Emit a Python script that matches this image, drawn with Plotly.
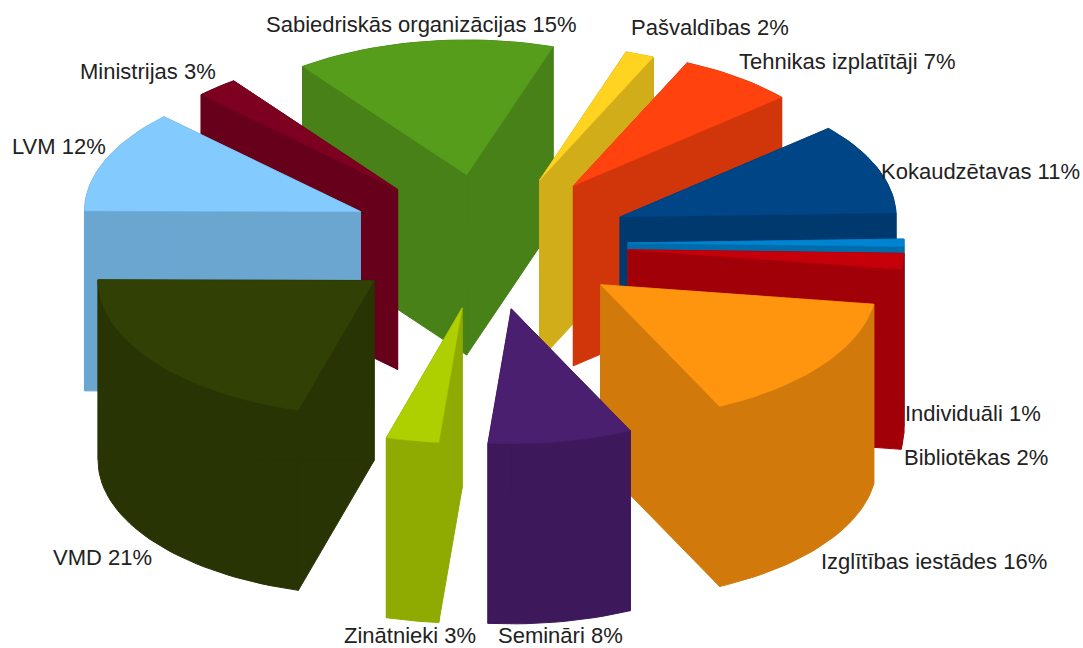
import math
import plotly.graph_objects as go

# Data, clockwise from the first slice
categories = ["Kokaudzētavas", "Individuāli", "Bibliotēkas", "Izglītības iestādes", "Semināri",
              "Zinātnieki", "VMD", "LVM", "Ministrijas", "Sabiedriskās organizācijas",
              "Pašvaldības", "Tehnikas izplatītāji"]
shares = [11.0, 0.9, 1.9, 15.7, 8.5, 3.1, 20.8, 12.4, 2.5, 15.3, 1.7, 6.9]
percent_labels = ["11%", "1%", "2%", "16%", "8%", "3%", "21%", "12%", "3%", "15%", "2%", "7%"]
colors = ["#004586", "#0084d1", "#c5000b", "#ff950e", "#4b1f6f", "#aecf00",
          "#314004", "#83caff", "#7e0021", "#579d1c", "#ffd320", "#ff420e"]

# How far each slice is pulled out of the pie, per page direction
pull_x = [.514, .507, .509, .507, .47, .52, .516, .5, .5, .49, .515, .518]
pull_y = [.53, .5, .58, .52, .496, .489, .463, .61, .525, .51, .5, .528]

# Projection of the exploded 3D pie onto the page (pixels)
CX, CY = 488, 243
RX, RY = 276, 135
DEPTH = 180
START = 319.0
SHADE = 0.82

label_x = [879, 903, 902, 819, 496, 342, 51, 10, 78, 264, 629, 737]
label_y = [171, 413, 457, 561, 635, 635, 557, 146, 71, 24, 27, 61]


def darker(hex_color, f=SHADE):
    r, g, b = (int(hex_color[i:i + 2], 16) for i in (1, 3, 5))
    return f"rgb({r * f:.0f},{g * f:.0f},{b * f:.0f})"


total = sum(shares)
slices = []
angle = START
for name, share, col, px, py, pct in zip(categories, shares, colors, pull_x, pull_y, percent_labels):
    sweep = share / total * 360
    slices.append({"name": name, "pct": pct, "color": col, "px": px, "py": py,
                   "a0": angle, "a1": angle + sweep, "mid": angle + sweep / 2})
    angle += sweep


def poly(fig, xs, ys, color, name, width=1.0):
    fig.add_trace(go.Scatter(x=xs + xs[:1], y=ys + ys[:1], mode="lines", fill="toself",
                             fillcolor=color, line=dict(width=width, color=color),
                             hoverinfo="text", text=name, showlegend=False))


fig = go.Figure()
# Painter's order: far slices first
for s in sorted(slices, key=lambda q: math.sin(math.radians(q["mid"]))):
    m = math.radians(s["mid"])
    ax = CX + s["px"] * RX * math.cos(m)
    ay = CY + s["py"] * RY * math.sin(m)
    n = max(4, int((s["a1"] - s["a0"]) / 2))
    ts = [math.radians(s["a0"] + (s["a1"] - s["a0"]) * i / n) for i in range(n + 1)]
    arc_x = [ax + RX * math.cos(t) for t in ts]
    arc_y = [ay + RY * math.sin(t) for t in ts]
    side = darker(s["color"])
    # outer wall
    poly(fig, arc_x + arc_x[::-1], arc_y + [y + DEPTH for y in arc_y[::-1]], side, s["name"])
    # two cut faces
    for i in (0, -1):
        poly(fig, [ax, arc_x[i], arc_x[i], ax],
             [ay, arc_y[i], arc_y[i] + DEPTH, ay + DEPTH], side, s["name"])
    # top
    poly(fig, [ax] + arc_x, [ay] + arc_y, s["color"], s["name"], width=0.5)

for s, x, y in zip(slices, label_x, label_y):
    fig.add_annotation(x=x, y=y, text=f"{s['name']} {s['pct']}", showarrow=False,
                       xanchor="left", yanchor="middle",
                       font=dict(family="Liberation Sans", size=22, color="#222222"))

fig.update_xaxes(range=[0, 1083], visible=False, fixedrange=True)
fig.update_yaxes(range=[648, 0], visible=False, fixedrange=True)
fig.update_layout(width=1083, height=648, margin=dict(l=0, r=0, t=0, b=0),
                  paper_bgcolor="white", plot_bgcolor="white", showlegend=False)
fig.write_html("out.html", config={"displayModeBar": False},
               post_script="document.body.style.margin='0';")
